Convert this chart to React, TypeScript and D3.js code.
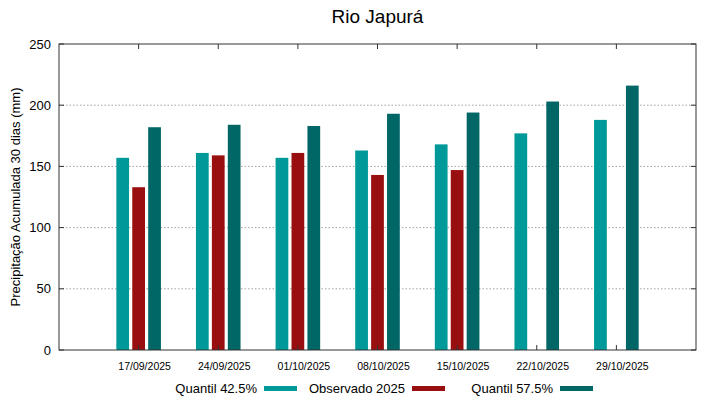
import { useEffect } from "react";
import * as d3 from "d3";

const dates = [
  "17/09/2025",
  "24/09/2025",
  "01/10/2025",
  "08/10/2025",
  "15/10/2025",
  "22/10/2025",
  "29/10/2025",
];
const quantil425 = [157, 161, 157, 163, 168, 177, 188];
const observado = [133, 159, 161, 143, 147, null, null];
const quantil575 = [182, 184, 183, 193, 194, 203, 216];
const seriesNames = ["Quantil 42.5%", "Observado 2025", "Quantil 57.5%"];
const seriesColors = ["#009999", "#990e0e", "#006666"];
const yTicks = [0, 50, 100, 150, 200, 250];

export default function App() {
  useEffect(() => {
    document.body.style.margin = "0";
  }, []);

  const width = 719;
  const height = 399;
  const margin = { top: 44, right: 23, bottom: 49, left: 59 };
  const x0 = margin.left;
  const x1 = width - margin.right;
  const y0 = height - margin.bottom;
  const y1 = margin.top;

  const xScale = d3.scalePoint<string>().domain(dates).range([x0, x1]).padding(1);
  const step = xScale.step();
  const barW = step * 0.16;
  const barGap = step * 0.2;
  const yScale = d3.scaleLinear().domain([0, 250]).range([y0, y1]);

  const series = [quantil425, observado, quantil575];
  const font = "'Liberation Sans', Arial, sans-serif";
  const tickLen = 5;

  return (
    <svg width={width} height={height} style={{ display: "block" }} fontFamily={font}>
      {/* title */}
      <text x={(x0 + x1) / 2} y={23} textAnchor="middle" fontSize={19} fill="#000">
        Rio Japurá
      </text>

      {/* grid */}
      {yTicks
        .filter((t) => t > 0 && t < 250)
        .map((t) => (
          <line
            key={"g" + t}
            x1={x0}
            x2={x1}
            y1={yScale(t)}
            y2={yScale(t)}
            stroke="#a0a0a0"
            strokeWidth={1}
            strokeDasharray="1.5,2"
          />
        ))}

      {/* bars */}
      {series.map((vals, si) =>
        vals.map((v, i) =>
          v == null ? null : (
            <rect
              key={`b${si}-${i}`}
              x={(xScale(dates[i]) ?? 0) + (si - 1) * barGap - barW / 2}
              y={yScale(v)}
              width={barW}
              height={y0 - yScale(v)}
              fill={seriesColors[si]}
            />
          ),
        ),
      )}

      {/* y ticks, mirrored */}
      {yTicks.map((t) => (
        <g key={"yt" + t}>
          <line x1={x0} x2={x0 + tickLen} y1={yScale(t)} y2={yScale(t)} stroke="#333" />
          <line x1={x1} x2={x1 - tickLen} y1={yScale(t)} y2={yScale(t)} stroke="#333" />
          <text
            x={x0 - 8}
            y={yScale(t)}
            dy="0.35em"
            textAnchor="end"
            fontSize={13}
            fill="#000"
          >
            {t}
          </text>
        </g>
      ))}

      {/* x ticks, mirrored */}
      {dates.map((d) => (
        <g key={"xt" + d}>
          <line x1={xScale(d)} x2={xScale(d)} y1={y0} y2={y0 - tickLen} stroke="#333" />
          <line x1={xScale(d)} x2={xScale(d)} y1={y1} y2={y1 + tickLen} stroke="#333" />
          <text x={(xScale(d) ?? 0) + 6} y={370} textAnchor="middle" fontSize={10.5} fill="#000">
            {d}
          </text>
        </g>
      ))}

      {/* frame */}
      <rect
        x={x0}
        y={y1}
        width={x1 - x0}
        height={y0 - y1}
        fill="none"
        stroke="#333"
        strokeWidth={1}
      />

      {/* y axis title */}
      <text
        transform={`translate(20, ${(y0 + y1) / 2}) rotate(-90)`}
        textAnchor="middle"
        fontSize={13}
        fill="#000"
      >
        Precipitação Acumulada 30 dias (mm)
      </text>

      {/* legend */}
      {seriesNames.map((name, i) => {
        const sx = 264 + i * 148;
        return (
          <g key={"l" + i}>
            <text x={sx - 7} y={393} textAnchor="end" fontSize={13} fill="#000">
              {name}
            </text>
            <rect x={sx} y={386} width={33} height={5} fill={seriesColors[i]} />
          </g>
        );
      })}
    </svg>
  );
}
